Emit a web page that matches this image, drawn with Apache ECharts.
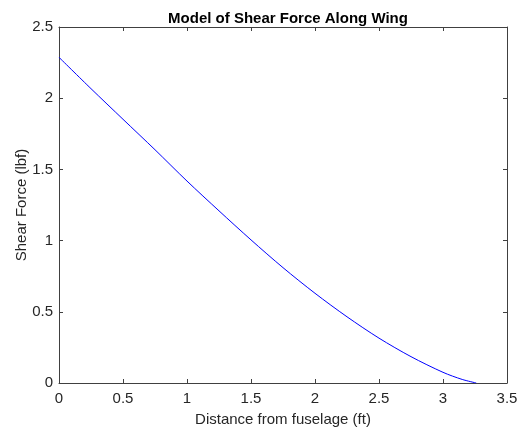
<!DOCTYPE html>
<html>
<head>
<meta charset="utf-8">
<script src="https://cdn.jsdelivr.net/npm/echarts@6/dist/echarts.min.js"></script>
<style>
  html, body { margin: 0; padding: 0; background: #fff; }
  #chart { width: 518px; height: 427px; }
</style>
</head>
<body>
<div id="chart"></div>
<script>
// distance from fuselage (ft) and shear force (lbf)
var distance = [0, 0.25, 0.5, 0.75, 1.0, 1.25, 1.5, 1.75, 2.0, 2.25, 2.5, 2.75, 3.0, 3.15, 3.26];
var shear = [2.287, 2.067, 1.852, 1.638, 1.418, 1.209, 1.005, 0.81, 0.63, 0.465, 0.315, 0.185, 0.075, 0.025, 0];
var xTicks = { min: 0, max: 3.5, step: 0.5 };
var yTicks = { min: 0, max: 2.5, step: 0.5 };

var chart = echarts.init(document.getElementById('chart'));
var txt = '#262626';
var font = 'Liberation Sans, Arial, sans-serif';

function axisBase(t, extra) {
    var a = {
        type: 'value',
        min: t.min,
        max: t.max,
        interval: t.step,
        splitLine: { show: false },
        axisLine: { show: true, onZero: false, lineStyle: { color: '#404040', width: 1 } },
        axisTick: { show: true, inside: true, length: 4, lineStyle: { color: '#404040' } },
        axisLabel: { show: true, color: txt, fontSize: 15, fontFamily: font }
    };
    return Object.assign(a, extra);
}

chart.setOption({
    animation: false,
    title: {
        text: 'Model of Shear Force Along Wing',
        left: 283,
        textAlign: 'center',
        top: 6,
        textStyle: { fontSize: 15, fontWeight: 'bold', color: '#000', fontFamily: font }
    },
    grid: { left: 59, right: 11, top: 27, bottom: 44, containLabel: false, outerBoundsMode: 'none' },
    xAxis: [
        axisBase(xTicks, {
            position: 'bottom',
            name: 'Distance from fuselage (ft)',
            nameLocation: 'middle',
            nameGap: 29,
            nameTextStyle: { color: txt, fontSize: 15, fontFamily: font },
            axisLabel: { color: txt, fontSize: 15, fontFamily: font, margin: 8 }
        }),
        axisBase(xTicks, { position: 'top', axisLabel: { show: false } })
    ],
    yAxis: [
        axisBase(yTicks, {
            position: 'left',
            name: 'Shear Force (lbf)',
            nameLocation: 'middle',
            nameGap: 30,
            nameMoveOverlap: false,
            nameTextStyle: { color: txt, fontSize: 15, fontFamily: font },
            axisLabel: { color: txt, fontSize: 15, fontFamily: font, margin: 6 }
        }),
        axisBase(yTicks, { position: 'right', axisLabel: { show: false } })
    ],
    series: [{
        type: 'line',
        data: distance.map(function (d, i) { return [d, shear[i]]; }),
        smooth: 0.3,
        showSymbol: false,
        lineStyle: { color: '#0000ff', width: 1 },
        xAxisIndex: 0,
        yAxisIndex: 0
    }]
});
</script>
</body>
</html>
